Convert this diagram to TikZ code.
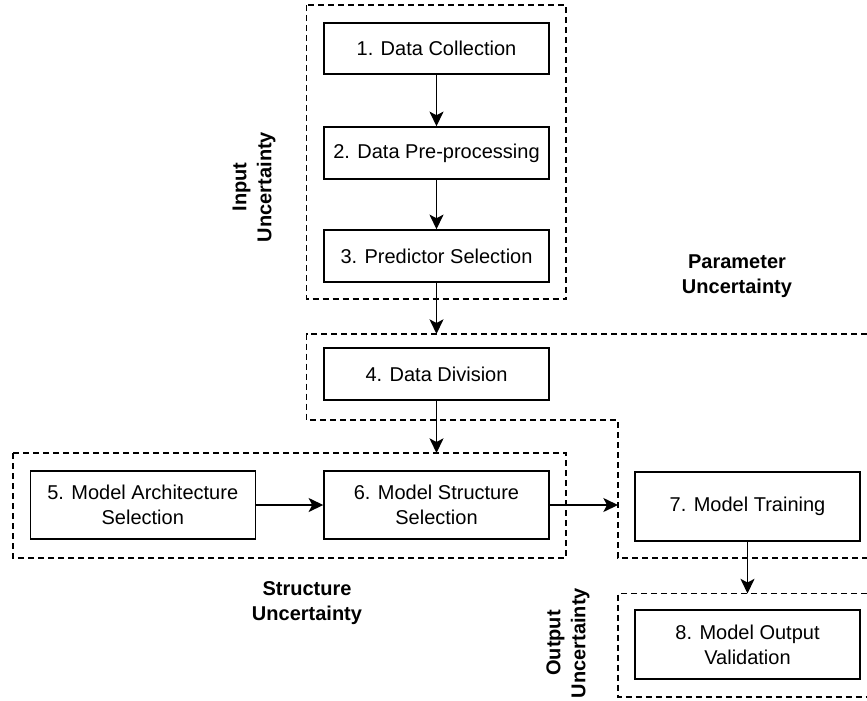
\documentclass[tikz,border=0pt]{standalone}
\usepackage{fontspec}
\setmainfont{Liberation Sans}
\usetikzlibrary{arrows.meta}
\begin{document}
\begin{tikzpicture}[x=0.75pt,y=-0.75pt,
  box/.style={draw, line width=1.1pt, inner sep=0pt, minimum width=168.75pt, align=center,
    font=\fontsize{15pt}{18.75pt}\selectfont},
  lbl/.style={align=center, inner sep=0pt, font=\fontsize{15pt}{18.75pt}\selectfont\bfseries},
  zone/.style={draw, line width=1.1pt, dash pattern=on 4.5pt off 3pt},
  arr/.style={draw, line width=1.1pt, -{Stealth[length=11pt,width=10.5pt,inset=2.75pt]}}]
\useasboundingbox (0,0) rectangle (867,700);

% dashed zones
\draw[zone] (306.5,5) rectangle (566,299);
\draw[zone] (867,334) -- (306.5,334) -- (306.5,420) -- (618,420) -- (618,558) -- (867,558);
\draw[zone] (13,453) rectangle (566,558);
\draw[zone] (867,593.5) -- (618,593.5) -- (618,697) -- (867,697);

% boxes
\node[box, minimum height=38.25pt] (b1) at (436.5,48.5) {1. Data Collection};
\node[box, minimum height=39pt] (b2) at (436.5,153) {2. Data Pre-processing};
\node[box, minimum height=39pt] (b3) at (436.5,256) {3. Predictor Selection};
\node[box, minimum height=39pt] (b4) at (436.5,374) {4. Data Division};
\node[box, minimum height=51pt] (b5) at (142.75,505) {5. Model Architecture\\Selection};
\node[box, minimum height=51pt] (b6) at (436.5,505) {6. Model Structure\\Selection};
\node[box, minimum height=51.75pt] (b7) at (747.5,506.5) {7. Model Training};
\node[box, minimum height=51.75pt] (b8) at (747.5,644.5) {8. Model Output\\Validation};

% labels
\node[lbl, rotate=90] (lin) at (254,187) {Input\\Uncertainty};
\node[lbl] (lpar) at (737,276) {Parameter\\Uncertainty};
\node[lbl] (lstr) at (307,603) {Structure\\Uncertainty};
\node[lbl, rotate=90] (lout) at (568,643) {Output\\Uncertainty};

% connector ends
\coordinate (p3) at (436.5,334);
\coordinate (p4) at (436.5,453);
\coordinate (p6) at (618,505);
\coordinate (p7) at (747.5,593.5);

% connectors
\draw[arr] (b1) -- (b2);
\draw[arr] (b2) -- (b3);
\draw[arr] (b3) -- (p3);
\draw[arr] (b4) -- (p4);
\draw[arr] (b5) -- (b6);
\draw[arr] (b6.east) -- (p6);
\draw[arr] (b7.south) -- (p7);
\end{tikzpicture}
\end{document}
